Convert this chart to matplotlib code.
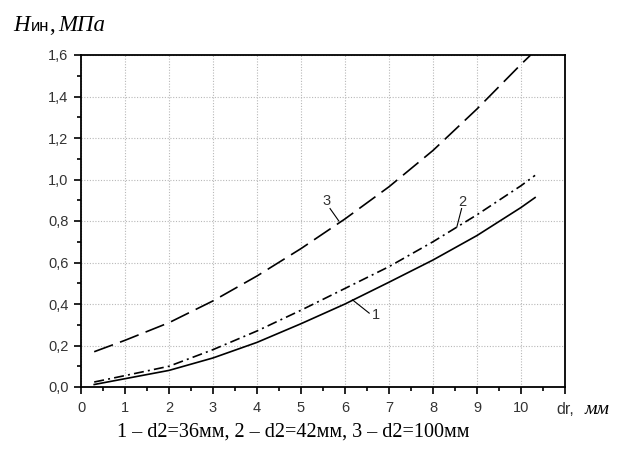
import matplotlib
matplotlib.use("Agg")
import matplotlib.pyplot as plt
from matplotlib.ticker import MultipleLocator, FixedLocator

# values
dr = [0.3, 1, 2, 3, 4, 5, 6, 7, 8, 9, 10, 10.32]
h_36 = [0.012, 0.04, 0.08, 0.14, 0.215, 0.305, 0.40, 0.505, 0.612, 0.73, 0.865, 0.913]
h_42 = [0.024, 0.055, 0.10, 0.18, 0.27, 0.37, 0.475, 0.58, 0.70, 0.83, 0.97, 1.02]
dr_100 = [0.3, 1, 2, 3, 4, 5, 6, 7, 8, 9, 10, 10.22]
h_100 = [0.17, 0.225, 0.31, 0.415, 0.535, 0.667, 0.81, 0.965, 1.14, 1.34, 1.555, 1.6]

x_ticks = list(range(0, 12))
x_labels = [str(v) for v in range(0, 11)] + [""]
y_ticks = [0.0, 0.2, 0.4, 0.6, 0.8, 1.0, 1.2, 1.4, 1.6]
y_labels = [("%.1f" % v).replace(".", ",") for v in y_ticks]

W, H = 623, 455
fig = plt.figure(figsize=(W / 100, H / 100), dpi=100)
ax = fig.add_axes([81 / W, 1 - 387 / H, (565 - 81) / W, (387 - 55) / H])

lw = 1.2
ax.plot(dr, h_36, color="black", lw=lw)
ax.plot(dr, h_42, color="black", lw=lw, dashes=(6, 2.5, 1.2, 2.5))
ax.plot(dr_100, h_100, color="black", lw=lw, dashes=(12, 4.5))

ax.set_xlim(0, 11)
ax.set_ylim(0, 1.6)
ax.xaxis.set_major_locator(FixedLocator(x_ticks))
ax.set_xticklabels(x_labels)
ax.xaxis.set_minor_locator(MultipleLocator(0.5))
ax.set_yticks(y_ticks)
ax.set_yticklabels(y_labels)
ax.yaxis.set_minor_locator(MultipleLocator(0.1))

ax.grid(True, which="major", color="#b8b8b8", linestyle=(0, (1, 1.5)), lw=0.8)
for s in ax.spines.values():
    s.set_linewidth(1.3)
ax.tick_params(which="both", direction="out", width=1.2, top=False, right=False)
ax.tick_params(which="major", length=5)
ax.tick_params(which="minor", length=3)
ax.tick_params(axis="y", labelsize=10.5, labelcolor="#333333", pad=4)
ax.tick_params(axis="x", labelsize=10.5, labelcolor="#333333", pad=5)
for lab in ax.get_xticklabels() + ax.get_yticklabels():
    lab.set_family("Liberation Sans")

# curve numbers with leader lines
ax.plot([6.17, 6.55], [0.42, 0.356], color="black", lw=0.8)
ax.text(6.6, 0.345, "1", fontsize=10.5, family="Liberation Sans", color="#333333",
        ha="left", va="center")
ax.plot([8.65, 8.54], [0.86, 0.77], color="black", lw=0.8)
ax.text(8.67, 0.89, "2", fontsize=10.5, family="Liberation Sans", color="#333333",
        ha="center", va="center")
ax.plot([5.66, 5.86], [0.86, 0.80], color="black", lw=0.8)
ax.text(5.58, 0.895, "3", fontsize=10.5, family="Liberation Sans", color="#333333",
        ha="center", va="center")

# y axis title built from pieces (serif italic + sans)
fig.canvas.draw()
rend = fig.canvas.get_renderer()
pieces = [
    ("H", dict(fontsize=16.5, family="Liberation Serif", style="italic"), 1),
    ("ин", dict(fontsize=12, family="Liberation Sans"), 0),
    (",", dict(fontsize=16.5, family="Liberation Serif"), 4),
    ("МПа", dict(fontsize=16.5, family="Liberation Serif", style="italic"), 0),
]
x_px = 13
base_y = 1 - 31 / H
for s, kw, gap in pieces:
    t = fig.text(x_px / W, base_y, s, va="baseline", **kw)
    x_px = t.get_window_extent(rend).x1 + gap

xl_y = 1 - 414 / H
fig.text(556 / W, xl_y, "dr,", fontsize=11.5, family="Liberation Sans", color="#333333",
         va="baseline")
fig.text(585 / W, xl_y, "мм", fontsize=14, family="Liberation Serif", style="italic",
         va="baseline")

fig.text(293 / W, 18 / H, "1 – d2=36мм, 2 – d2=42мм, 3 – d2=100мм", fontsize=14.5,
         family="Liberation Serif", ha="center", va="baseline")

fig.savefig("out.png", dpi=100, facecolor="white")
